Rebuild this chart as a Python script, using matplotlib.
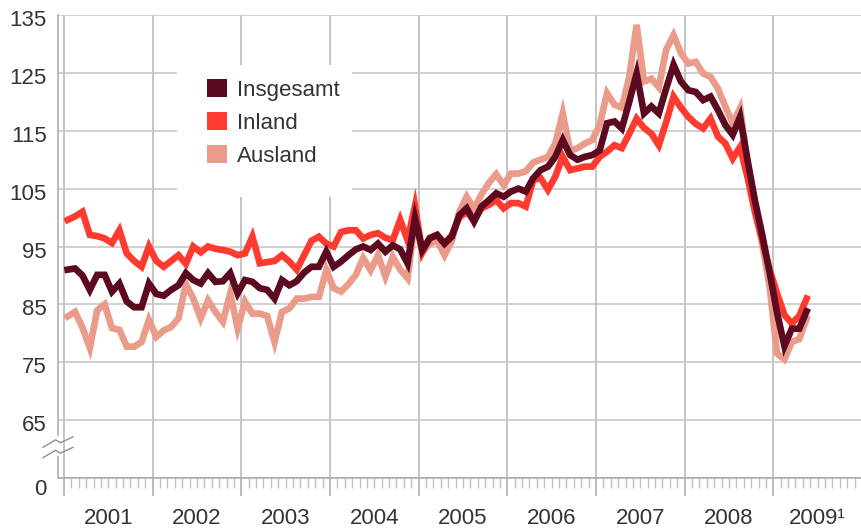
import numpy as np
import matplotlib.pyplot as plt
import matplotlib.transforms as mtransforms
from matplotlib.patches import Patch, Rectangle
from matplotlib.ticker import FixedLocator

plt.rcParams['font.family'] = ['Liberation Sans', 'DejaVu Sans']

# monthly index values, Jan 2001 .. May 2009
insgesamt = [91.0, 91.2, 90.0, 87.5, 90.1, 90.1, 87.2, 88.6, 85.5, 84.5, 84.5, 88.6,
             86.8, 86.5, 87.5, 88.3, 90.4, 89.2, 88.6, 90.4, 88.9, 89.0, 90.4, 86.9,
             89.2, 88.9, 87.8, 87.5, 86.0, 89.2, 88.3, 89.0, 90.5, 91.5, 91.5, 94.1,
             91.5, 92.4, 93.5, 94.5, 95.0, 94.4, 95.5, 94.1, 95.2, 94.5, 92.1, 99.9,
             94.4, 96.4, 97.0, 95.5, 96.7, 100.4, 101.6, 99.3, 101.9, 103.0, 104.2, 103.6,
             104.5, 105.0, 104.5, 106.8, 108.2, 108.8, 110.5, 113.4, 110.8, 110.0, 110.5, 110.8,
             111.6, 116.3, 116.6, 115.4, 120.0, 124.9, 118.0, 119.2, 118.0, 122.3, 126.4, 123.5,
             122.0, 121.7, 120.3, 120.9, 118.6, 116.0, 114.3, 117.4, 110.0, 103.0, 97.0, 90.5,
             83.6, 77.8, 80.8, 80.8, 83.8]
inland = [99.6, 100.2, 101.0, 97.0, 96.8, 96.4, 95.6, 97.8, 93.8, 92.5, 91.5, 95.0,
          92.5, 91.5, 92.5, 93.5, 92.0, 95.0, 94.0, 95.0, 94.6, 94.4, 94.1, 93.5,
          93.8, 96.7, 92.1, 92.3, 92.5, 93.5, 92.4, 91.0, 93.5, 96.0, 96.7, 95.5,
          95.0, 97.5, 97.8, 97.8, 96.4, 97.0, 97.3, 96.5, 96.1, 99.6, 96.1, 102.0,
          94.0, 96.5, 97.0, 95.5, 97.0, 100.0, 101.0, 99.5, 101.6, 102.2, 103.0, 101.6,
          102.5, 102.5, 101.9, 106.5, 106.8, 104.8, 107.1, 110.5, 108.2, 108.5, 108.8, 108.8,
          110.5, 111.4, 112.5, 112.0, 114.5, 117.1, 115.5, 114.5, 112.5, 116.5, 120.9, 119.0,
          117.4, 116.2, 115.4, 117.1, 114.0, 112.8, 110.2, 112.2, 107.0, 101.0, 96.0, 91.0,
          86.9, 83.2, 81.7, 83.0, 86.0]
ausland = [82.9, 83.7, 81.0, 77.5, 84.0, 85.0, 80.9, 80.6, 77.7, 77.7, 78.5, 82.3,
           79.4, 80.5, 81.1, 82.6, 88.5, 86.0, 82.6, 85.7, 83.7, 82.0, 86.9, 80.9,
           85.5, 83.4, 83.4, 83.0, 78.5, 83.7, 84.3, 86.0, 86.0, 86.3, 86.3, 90.9,
           87.8, 87.2, 88.5, 90.1, 93.0, 90.9, 93.5, 89.8, 93.2, 91.0, 89.5, 99.5,
           94.0, 95.5, 96.0, 93.5, 96.0, 101.0, 103.6, 101.5, 104.0, 106.0, 107.5, 105.6,
           107.6, 107.6, 108.0, 109.5, 110.0, 110.5, 112.8, 118.0, 111.5, 112.0, 112.8, 113.4,
           116.0, 121.5, 119.5, 119.0, 124.3, 133.3, 123.5, 124.0, 122.5, 129.0, 131.5, 128.4,
           126.6, 126.9, 124.9, 124.3, 122.3, 119.2, 116.3, 118.9, 109.5, 102.0, 95.5, 88.0,
           76.5, 75.5, 78.5, 79.0, 82.5]

years = [2001, 2002, 2003, 2004, 2005, 2006, 2007, 2008, 2009]
year_labels = ['2001', '2002', '2003', '2004', '2005', '2006', '2007', '2008', '2009\u00b9']
yticks = [55, 65, 75, 85, 95, 105, 115, 125, 135]
ytick_labels = ['0', '65', '75', '85', '95', '105', '115', '125', '135']

c_ges = '#5c0a1f'
c_in = '#ff3b30'
c_aus = '#eb9b8a'
grid_c = '#c4c4c4'
text_c = '#333333'

t = 2001 + (np.arange(len(insgesamt)) + 0.5) / 12

fig = plt.figure(figsize=(8.62, 5.30), dpi=100)
ax = fig.add_axes([58/862, 52/530, 804/862, 463/530])

ax.plot(t, ausland, color=c_aus, lw=4.8, solid_joinstyle='miter', zorder=3)
ax.plot(t, inland, color=c_in, lw=4.8, solid_joinstyle='miter', zorder=4)
ax.plot(t, insgesamt, color=c_ges, lw=4.8, solid_joinstyle='miter', zorder=5)

ax.set_xlim(2001 - 6/89.25, 2001 + (862 - 64)/89.25)
ax.set_ylim(55, 135)

ax.set_yticks(yticks)
ax.set_yticklabels(ytick_labels)
ax.set_xticks(years + [2010])
ax.set_xticklabels([])
ax.xaxis.set_minor_locator(FixedLocator(2001 + np.arange(0, 109) / 12))

ax.grid(True, which='major', axis='y', color=grid_c, lw=1.1)
ax.grid(True, which='major', axis='x', color='#b4b4b4', lw=1.1)
ax.set_axisbelow(True)
for s in ['top', 'right']:
    ax.spines[s].set_visible(False)
for s in ['left', 'bottom']:
    ax.spines[s].set_color('#a8a8a8')
    ax.spines[s].set_linewidth(1.1)

ax.tick_params(axis='y', length=0, pad=8, labelsize=16, labelcolor=text_c)
ax.tick_params(axis='x', which='major', length=13, width=1.1, color='#a8a8a8')
ax.tick_params(axis='x', which='minor', length=7, width=1, color='#c0c0c0')

# nudge tick labels a bit below their grid lines
for lab in ax.get_yticklabels():
    dy = -9 if lab.get_text() == '0' else -3
    lab.set_transform(lab.get_transform() + mtransforms.ScaledTranslation(0, dy/100, fig.dpi_scale_trans))

# year labels centred in each year
trans = mtransforms.blended_transform_factory(ax.transData, ax.transAxes)
for y, lab in zip(years, year_labels):
    ax.text(y + 0.5, -0.088, lab, transform=trans, ha='center', va='center',
            fontsize=16, color=text_c)

# axis break between 0 and 65
tb = mtransforms.blended_transform_factory(ax.transAxes, ax.transData)
ax.plot([0, 0], [59.3, 61.7], transform=tb, color='white', lw=4, clip_on=False, zorder=6)
dx = 15/804
for y0 in [59.4, 61.2]:
    ax.plot([-dx, -0.003, 0.003, dx], [y0 - 0.9, y0 + 0.4, y0 - 0.1, y0 + 0.9],
            transform=tb, color='#909090', lw=1, clip_on=False, zorder=7)

# white area behind legend
ax.add_patch(Rectangle((119/804, 281/463), 175/804, 132/463, transform=ax.transAxes,
                       facecolor='white', edgecolor='none', zorder=1.5))

handles = [Patch(facecolor=c_ges, label='Insgesamt'),
           Patch(facecolor=c_in, label='Inland'),
           Patch(facecolor=c_aus, label='Ausland')]
ax.legend(handles=handles, loc='upper left', bbox_to_anchor=(149/804, 399/463),
          frameon=False, fontsize=16, borderpad=0, borderaxespad=0,
          handlelength=0.9, handleheight=0.86, handletextpad=0.45, labelspacing=0.52,
          labelcolor=text_c)

fig.savefig('out.png', dpi=100)
